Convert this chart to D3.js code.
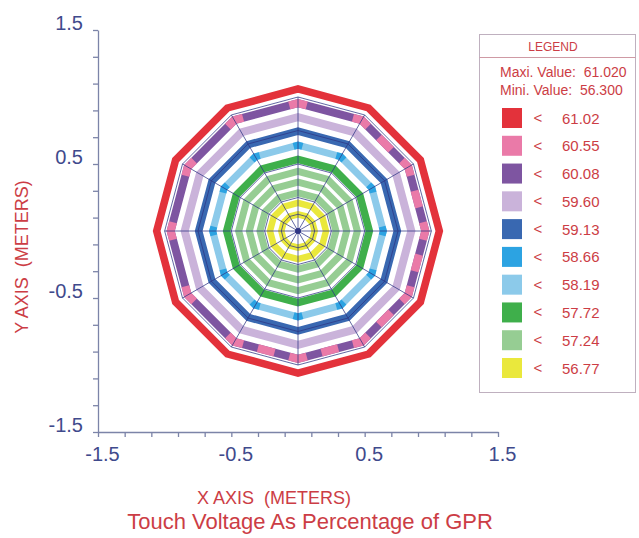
<!DOCTYPE html>
<html>
<head>
<meta charset="utf-8">
<script src="https://cdn.jsdelivr.net/npm/d3@7"></script>
<style>
body { margin: 0; background: #fff; }
text { font-family: "Liberation Sans", Arial, sans-serif; white-space: pre; }
</style>
</head>
<body>
<div id="chart"></div>
<script>
// legend levels (upper bound of each class) and their colours
var levels = ["61.02", "60.55", "60.08", "59.60", "59.13", "58.66", "58.19", "57.72", "57.24", "56.77"];
var levelColors = ["#e3323b", "#ea7aa8", "#7e55a1", "#cab3da", "#3968b1", "#2ca3e2", "#8ccaea", "#3faf4b", "#96cd93", "#eae83c"];
var maxValue = "61.020", minValue = "56.300";

// contour rings (dodecagons), radius in meters, outermost first
var ringRadius = [1.06, 0.955, 0.85, 0.745, 0.64, 0.535, 0.445, 0.365, 0.285, 0.21, 0.125];
var ringLevel = ["61.02", "60.08", "59.60", "59.13", "58.19", "57.72", "57.24", "57.24", "57.24", "56.77", "56.77"];
var ringWidth = [7.5, 8, 8, 7.5, 7, 7.5, 7, 7, 7, 6.5, 6.5];

// patches of the next level up along two rings (polar angle, degrees)
var pinkSpots = [0, 15, 30, 45, 60, 90, 120, 150, 180, 210, 240, 255, 270, 285, 300, 315, 330, 345];
var blueSpots = [0, 30, 60, 90, 120, 150, 180, 210, 240, 270, 300, 330];

// ground grid conductors
var gridRadius = [0.125, 0.25, 0.5, 0.75, 1.0];
var spokeAngles = [0, 30, 60, 90, 120, 150, 180, 210, 240, 270, 300, 330];

// axis ticks
var majorTicks = [-1.5, -0.5, 0.5, 1.5];
var minorTicks = [-1.3, -1.1, -0.9, -0.7, -0.3, -0.1, 0.1, 0.3, 0.7, 0.9, 1.1, 1.3];

var W = 639, H = 538;
var svg = d3.select("#chart").append("svg")
	.attr("width", W)
	.attr("height", H);

var x = d3.scaleLinear().domain([-1.5, 1.5]).range([98, 498]),
	y = d3.scaleLinear().domain([-1.5, 1.5]).range([432, 30]);
var color = d3.scaleOrdinal(levels, levelColors);

var rad = Math.PI / 180;
// point on a dodecagon (vertex at 0 deg) of radius r, at polar angle theta
function pt(r, theta) {
	var off = ((theta % 30) + 30) % 30 - 15;
	var f = r * Math.cos(15 * rad) / Math.cos(off * rad);
	return [x(f * Math.cos(theta * rad)), y(f * Math.sin(theta * rad))];
}
function arcPts(r, t1, t2) {
	var p = [pt(r, t1)];
	for (var v = Math.ceil(t1 / 30) * 30; v < t2; v += 30) if (v > t1) p.push(pt(r, v));
	p.push(pt(r, t2));
	return p;
}
var ringLine = d3.line().curve(d3.curveLinearClosed);
var segLine = d3.line();
function ringPath(r) { return ringLine(spokeAngles.map(function(a) { return pt(r, a); })); }

// contour bands
var rings = svg.append("g").attr("class", "rings");
rings.selectAll("path.ring")
	.data(ringRadius)
	.enter().append("path")
	.attr("class", "ring")
	.attr("d", ringPath)
	.attr("fill", "none")
	.attr("stroke", function(r, i) { return color(ringLevel[i]); })
	.attr("stroke-width", function(r, i) { return ringWidth[i]; })
	.attr("stroke-linejoin", "miter");

rings.selectAll("path.pink")
	.data(pinkSpots)
	.enter().append("path")
	.attr("class", "pink")
	.attr("d", function(a) { return segLine(arcPts(ringRadius[1], a - 4, a + 4)); })
	.attr("fill", "none")
	.attr("stroke", color("60.55"))
	.attr("stroke-width", ringWidth[1]);

rings.selectAll("path.blue")
	.data(blueSpots)
	.enter().append("path")
	.attr("class", "blue")
	.attr("d", function(a) { return segLine(arcPts(ringRadius[4], a - 3, a + 3)); })
	.attr("fill", "none")
	.attr("stroke", color("58.66"))
	.attr("stroke-width", ringWidth[4]);

// grid conductors on top
var grid = svg.append("g").attr("class", "grid")
	.attr("stroke", "#2e3584")
	.attr("stroke-opacity", 0.75)
	.attr("fill", "none")
	.attr("stroke-width", 1);
grid.selectAll("path.g")
	.data(gridRadius)
	.enter().append("path")
	.attr("class", "g")
	.attr("d", ringPath);
grid.selectAll("line")
	.data(spokeAngles)
	.enter().append("line")
	.attr("x1", x(0)).attr("y1", y(0))
	.attr("x2", function(a) { return pt(1.0, a)[0]; })
	.attr("y2", function(a) { return pt(1.0, a)[1]; });
svg.append("circle")
	.attr("cx", x(0)).attr("cy", y(0)).attr("r", 3)
	.attr("fill", "#2e3584");

// axes
var axisColor = "#7c84a8", tickColor = "#3f4a8c";
var allTicks = majorTicks.concat(minorTicks);
var fmt = function(d) { return majorTicks.indexOf(d) >= 0 ? d.toFixed(1) : ""; };

var yAxis = svg.append("g")
	.attr("transform", "translate(" + x(-1.5) + ",0)")
	.call(d3.axisLeft(y).tickValues(allTicks).tickSize(5).tickSizeOuter(0).tickFormat(fmt));
yAxis.selectAll("text")
	.attr("x", -15).attr("dy", "-0.05em")
	.style("font-size", "20px").attr("fill", tickColor);

var xAxis = svg.append("g")
	.attr("transform", "translate(0," + y(-1.5) + ")")
	.call(d3.axisBottom(x).tickValues(allTicks).tickSize(5).tickSizeOuter(0).tickFormat(fmt));
xAxis.selectAll("text")
	.attr("y", 15).attr("dx", 4)
	.style("font-size", "20px").attr("fill", tickColor);

svg.selectAll(".domain, .tick line")
	.attr("stroke", axisColor)
	.attr("stroke-width", 1.3);

// titles
var red = "#cc3d45";
svg.append("text")
	.attr("x", 274).attr("y", 504)
	.attr("text-anchor", "middle")
	.style("font-size", "18px").attr("fill", red)
	.text("X AXIS  (METERS)");
svg.append("text")
	.attr("transform", "translate(28,257) rotate(-90)")
	.attr("text-anchor", "middle")
	.style("font-size", "18px").attr("fill", red)
	.text("Y AXIS  (METERS)");
svg.append("text")
	.attr("x", 310).attr("y", 529)
	.attr("text-anchor", "middle")
	.style("font-size", "22px").attr("fill", red)
	.text("Touch Voltage As Percentage of GPR");

// legend
var lg = svg.append("g").attr("class", "legend");
lg.append("rect")
	.attr("x", 479.5).attr("y", 34.5).attr("width", 156).attr("height", 358)
	.attr("fill", "#fff").attr("stroke", "#bfb0bf");
lg.append("line")
	.attr("x1", 479.5).attr("x2", 635.5).attr("y1", 57.5).attr("y2", 57.5)
	.attr("stroke", "#cf9aa4");
lg.append("text")
	.attr("x", 553).attr("y", 51)
	.attr("text-anchor", "middle")
	.style("font-size", "12px").attr("fill", red)
	.text("LEGEND");
lg.append("text")
	.attr("x", 500).attr("y", 77)
	.style("font-size", "14px").attr("fill", red)
	.text("Maxi. Value:  " + maxValue);
lg.append("text")
	.attr("x", 500).attr("y", 95)
	.style("font-size", "14px").attr("fill", red)
	.text("Mini. Value:  " + minValue);

var ly = d3.scalePoint().domain(levels).range([118, 368]);
var item = lg.selectAll("g.item")
	.data(levels)
	.enter().append("g")
	.attr("class", "item")
	.attr("transform", function(d) { return "translate(0," + ly(d) + ")"; });
item.append("rect")
	.attr("x", 502).attr("y", -10).attr("width", 20).attr("height", 20)
	.attr("fill", function(d) { return color(d); });
item.append("text")
	.attr("x", 538).attr("y", 5)
	.attr("text-anchor", "middle")
	.style("font-size", "15px").attr("fill", red)
	.text("<");
item.append("text")
	.attr("x", 562).attr("y", 5.5)
	.style("font-size", "15px").attr("fill", red)
	.text(function(d) { return d; });
</script>
</body>
</html>
